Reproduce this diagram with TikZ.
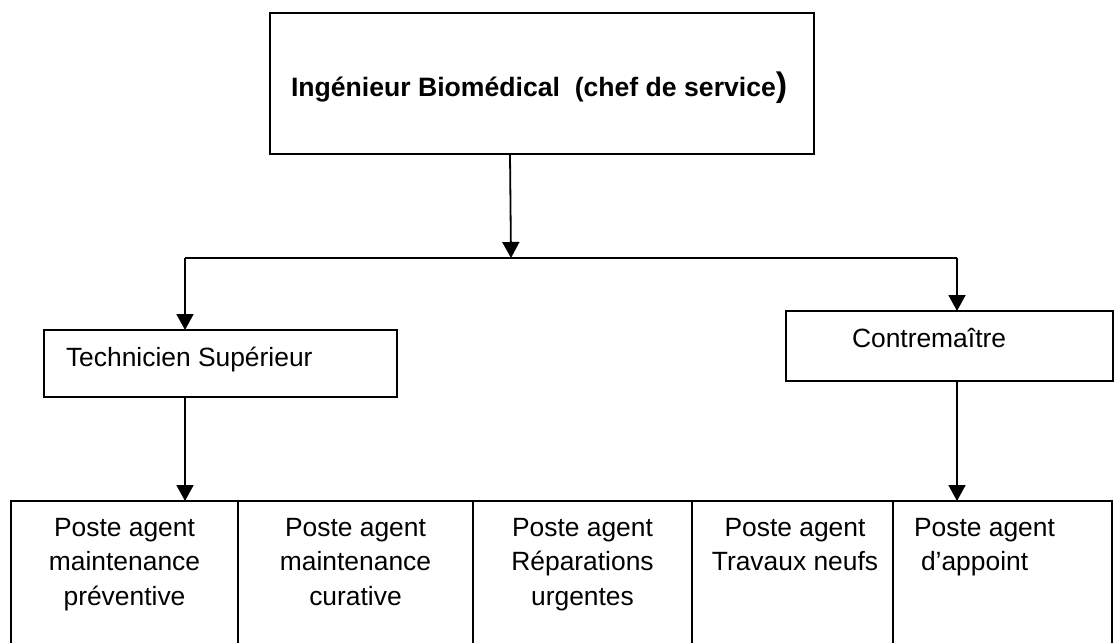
\documentclass[tikz,border=0pt]{standalone}
\usepackage{fontspec}
\setmainfont{Liberation Sans}
\usetikzlibrary{arrows.meta}
\begin{document}
\begin{tikzpicture}[x=1pt,y=-1pt,
  box/.style={draw, line width=1.8pt, inner sep=0pt, outer sep=0pt},
  lbl/.style={inner sep=0pt, outer sep=0pt, font=\fontsize{26.4}{34.5}\selectfont},
  link/.style={line width=1.8pt},
  arr/.style={link, -{Triangle[length=16pt,width=17pt]}}]
\useasboundingbox (0,0) rectangle (1115,642);
\clip (0,0) rectangle (1115,642);

% head of department
\node[box, minimum width=544pt, minimum height=141.3pt] (chef) at (542,83.35) {};
\node[lbl, anchor=base west, font=\fontsize{26.6}{30}\selectfont\bfseries] (chefT) at (291,96.7)
  {Ingénieur Biomédical\ \ (chef de service{\fontsize{34}{34}\selectfont)}};

% second level
\node[box, minimum width=353pt, minimum height=67pt] (tech) at (220.5,363.5) {};
\node[lbl, anchor=base west] (techT) at (66,366) {Technicien Supérieur};
\node[box, minimum width=327pt, minimum height=70pt] (ctr) at (949.5,346) {};
\node[lbl, anchor=base west] (ctrT) at (852,347) {Contremaître};

% bottom row of posts
\node[box, minimum width=227pt, minimum height=159pt] (c1) at (124.5,580.5) {};
\node[box, minimum width=235pt, minimum height=159pt] (c2) at (355.5,580.5) {};
\node[box, minimum width=219pt, minimum height=159pt] (c3) at (582.5,580.5) {};
\node[box, minimum width=201pt, minimum height=159pt] (c4) at (792.5,580.5) {};
\node[box, minimum width=219pt, minimum height=159pt] (c5) at (1002.5,580.5) {};

\node[lbl, anchor=north, align=center] (t1) at (124.5,518) {Poste agent\\maintenance\\préventive};
\node[lbl, anchor=north, align=center] (t2) at (355.5,518) {Poste agent\\maintenance\\curative};
\node[lbl, anchor=north, align=center] (t3) at (582.5,518) {Poste agent\\Réparations\\urgentes};
\node[lbl, anchor=north, align=center] (t4) at (795,518) {Poste agent\\Travaux neufs};
\node[lbl, anchor=north west, align=left] (t5) at (914,518) {Poste agent\\\hspace*{7pt}d’appoint};

% connectors
\coordinate (jm) at (511,258);
\coordinate (jl) at (185,258);
\coordinate (jr) at (957,258);
\draw[arr] ([xshift=-32pt]chef.south) -- (jm);
\draw[link] (jl) -- (jr);
\draw[arr] (jl) -- (jl |- tech.north);
\draw[arr] (jr) -- (jr |- ctr.north);
\draw[arr] (tech.south -| jl) -- (c1.north -| jl);
\draw[arr] (ctr.south -| jr) -- (c5.north -| jr);
\end{tikzpicture}
\end{document}
